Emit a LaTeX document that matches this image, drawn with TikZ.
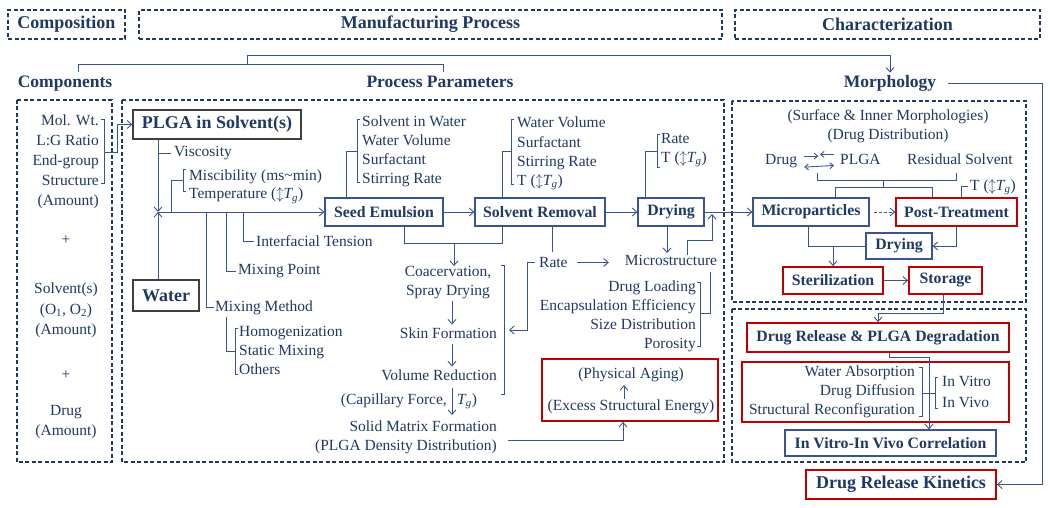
\documentclass[tikz,border=0pt]{standalone}
\usepackage{fontspec}
\setmainfont{Liberation Serif}
\usetikzlibrary{arrows.meta,positioning}
\definecolor{navy}{HTML}{1F3864}
\definecolor{lineblue}{HTML}{3A5490}
\definecolor{boxred}{HTML}{C00000}
\definecolor{boxgray}{HTML}{3F3F3F}
\newcommand{\Tg}{\textit{T}\textsubscript{\kern-0.08em\textit{g}}}
\newcommand{\TgShift}{($\updownarrow$\Tg)}

\begin{document}
\begin{tikzpicture}[x=1pt,y=-1pt,
      every node/.style={
         text=navy,
         inner sep=0pt,
         font=\fontsize{15.5}{19.3}\selectfont
      },
      frame/.style={
         draw=navy,
         line width=1.7pt,
         dash pattern=on 4pt off 2.5pt
      },
      section/.style={
         frame,
         minimum height=29pt,
         font=\fontsize{18}{20}\selectfont\bfseries
      },
      heading/.style={
         anchor=base,
         font=\fontsize{17.5}{20}\selectfont\bfseries
      },
      ingredient/.style={
         rectangle,
         draw=boxgray,
         line width=1.4pt,
         font=\fontsize{18}{20}\selectfont\bfseries
      },
      stage/.style={
         rectangle,
         draw=lineblue,
         line width=1.2pt,
         minimum height=28pt,
         font=\fontsize{15.8}{18}\selectfont\bfseries
      },
      critical/.style={
         stage,
         draw=boxred,
         line width=1.8pt
      },
      param/.style={anchor=base west},
      link/.style={draw=lineblue,line width=0.9pt},
      tip/.style={link,->},
      small tip/.style={link,>={Straight Barb[length=3.5pt,width=6pt]}},
      >={Straight Barb[length=4.5pt,width=8pt]},
    ]
  \useasboundingbox (0,0) rectangle (1050,508);

  % section titles and frames
  \node (compo) [section, minimum width=117pt] at (66.5,24.5) {Composition};
  \node (manuf) [section, minimum width=583pt] at (430.5,24.5) {Manufacturing Process};
  \node (charac) [section, minimum width=305pt] at (887.5,24.5) {Characterization};
  \node (comphd) [heading] at (65,88) {Components};
  \node (prochd) [heading] at (440,88) {Process Parameters};
  \node (morphhd) [heading] at (890,88) {Morphology};
  \draw[frame] (17,100) rectangle (112,462);
  \draw[frame] (122,100) rectangle (724,462);
  \draw[frame] (732,101) rectangle (1026,302);
  \draw[frame] (732,309) rectangle (1026,462);

  % components
  \node (props) [anchor=north east, align=right, font=\fontsize{15.5}{20}\selectfont] at (99,115)
     {Mol. Wt.\\L:G Ratio\\End-group\\Structure\\(Amount)};
  \node (plus1) [anchor=base] at (66,244) {+};
  \node (solv) [anchor=north, align=center, font=\fontsize{15.5}{20.5}\selectfont] at (66,283)
     {Solvent(s)\\(O\textsubscript{1}, O\textsubscript{2})\\(Amount)};
  \node (plus2) [anchor=base] at (66,379) {+};
  \node (drug) [anchor=north, align=center, font=\fontsize{15.5}{20}\selectfont] at (66,405)
     {Drug\\(Amount)};

  % process parameters
  \node (plga) [ingredient, minimum width=168pt, minimum height=29pt] at (217,124.5) {PLGA in Solvent(s)};
  \node (water) [ingredient, minimum width=66pt, minimum height=31pt] at (166,295.5) {Water};
  \node (seed) [stage, minimum width=118pt] at (384,212) {Seed Emulsion};
  \node (remov) [stage, minimum width=130pt] at (540,212) {Solvent Removal};
  \node (dry) [stage, minimum width=66pt] at (671,212) {Drying};
  \coordinate (mix) at (158,212);
  \coordinate (solidout) at (508,440);

  \node (visc) [param] at (174,156.5) {Viscosity};
  \node (misc) [anchor=north west, align=left, font=\fontsize{15.5}{18}\selectfont] at (189,170)
     {Miscibility (ms\textasciitilde min)\\Temperature \TgShift};
  \node (ift) [param] at (256,246.5) {Interfacial Tension};
  \node (mpt) [param] at (238,274.5) {Mixing Point};
  \node (mmeth) [param] at (215,311.5) {Mixing Method};
  \node (mixways) [anchor=north west, align=left, font=\fontsize{15.5}{19}\selectfont] at (239,326)
     {Homogenization\\Static Mixing\\Others};
  \node (seedpar) [anchor=north west, align=left, font=\fontsize{15.5}{18.8}\selectfont] at (362,116)
     {Solvent in Water\\Water Volume\\Surfactant\\Stirring Rate};
  \node (rempar) [anchor=north west, align=left, font=\fontsize{15.5}{19.2}\selectfont] at (517,117)
     {Water Volume\\Surfactant\\Stirring Rate\\T \TgShift};
  \node (drypar) [anchor=north west, align=left, font=\fontsize{15.5}{19}\selectfont] at (661,133)
     {Rate\\T \TgShift};

  \node (coac) [anchor=north, align=center, font=\fontsize{15.5}{19}\selectfont] at (448,266)
     {Coacervation,\\Spray Drying};
  \node (skin) [anchor=base east] at (497,338.5) {Skin Formation};
  \node (volred) [anchor=base east] at (497,380.5) {Volume Reduction};
  \node (capil) [anchor=base east] at (447,404.5) {(Capillary Force,};
  \node (capilTg) [anchor=base west] at (457,404.5) {\Tg)};
  \node (solid) [anchor=north east, align=right, font=\fontsize{15.5}{18.5}\selectfont] at (497,421)
     {Solid Matrix Formation\\(PLGA Density Distribution)};
  \node (rate) [param] at (539,267.5) {Rate};
  \node (mstruct) [anchor=base] at (671,265.5) {Microstructure};
  \node (mslist) [anchor=north east, align=right, font=\fontsize{15.5}{18.8}\selectfont] at (696,281)
     {Drug Loading\\Encapsulation Efficiency\\Size Distribution\\Porosity};
  \node (aging) [critical, minimum width=176pt, minimum height=62pt] at (630,390) {};
  \node (phys) [anchor=base] at (631,378.5) {(Physical Aging)};
  \node (excess) [anchor=base] at (631,410.5) {(Excess Structural Energy)};

  % morphology
  \node (micro) [stage, minimum width=116pt] at (811,212) {Microparticles};
  \node (post) [critical, minimum width=121pt] at (956.5,212) {Post-Treatment};
  \node (dry2) [stage, minimum width=66pt, minimum height=26pt] at (899,246) {Drying};
  \node (steril) [critical, minimum width=100pt, minimum height=27pt] at (833,280.5) {Sterilization};
  \node (storage) [critical, minimum width=73pt, minimum height=27pt] at (945.5,280.5) {Storage};
  \node (surf) [anchor=north, align=center, font=\fontsize{15.5}{19}\selectfont] at (888,109)
     {(Surface \& Inner Morphologies)\\(Drug Distribution)};
  \node (drugm) [param] at (765,164.5) {Drug};
  \node (plgam) [param] at (840,164.5) {PLGA};
  \node (resid) [param] at (907,164.5) {Residual Solvent};
  \node (postT) [param] at (970,190) {T \TgShift};

  % drug release
  \node (release) [critical, minimum width=262pt, minimum height=29pt] at (878,337.5)
     {Drug Release \& PLGA Degradation};
  \node (mech) [critical, minimum width=267pt, minimum height=60pt] at (875.5,392) {};
  \node (mechlist) [anchor=north east, align=right, font=\fontsize{15.5}{19}\selectfont] at (915,366)
     {Water Absorption\\Drug Diffusion\\Structural Reconfiguration};
  \node (vitro) [anchor=north west, align=left, font=\fontsize{15.5}{21}\selectfont] at (942,376)
     {In Vitro\\In Vivo};
  \node (ivivc) [stage, minimum width=211pt, minimum height=26pt] at (890.5,443)
     {In Vitro-In Vivo Correlation};
  \node (kinetics) [critical, minimum width=190pt, minimum height=29pt,
     font=\fontsize{18}{20}\selectfont\bfseries] at (901,484.5) {Drug Release Kinetics};

  % top connectors
  \draw[link] (78,72) |- (443,64) -- (443,72);
  \draw[tip] (247,64) -- (247,55) -| ([yshift=3pt]morphhd.north);
  \draw[tip] ([xshift=12pt]morphhd.east) -| (1042,470) |- (kinetics.east);

  % components to PLGA
  \draw[link] (101,119) -- (104,119) -- (104,183) -- (101,183);
  \draw[tip] (104,152) -- (117,152) |- (plga.west);

  % mixing
  \draw[tip] (plga.south -| mix) -- (mix);
  \draw[tip] (water.north -| mix) -- (mix);
  \draw[tip] (mix) -- (seed);
  \draw[link] (visc.west -| mix) -- ([xshift=-3pt]visc.west);
  \draw[link] (171,212) |- (183,180);
  \draw[link] (186,169) -- (183,169) -- (183,191) -- (186,191);
  \draw[link] (243,212) |- ([xshift=-2pt]ift.west);
  \draw[link] (226,212) |- ([xshift=-2pt]mpt.west);
  \draw[link] (206,212) |- ([xshift=-1pt]mmeth.west);
  \draw[link] (226,317) |- (235,351);
  \draw[link] (238,328) -- (235,328) -- (235,374) -- (238,374);

  % stage parameters
  \draw[link] ([xshift=-38pt]seed.north) |- (357,151);
  \draw[link] (360,119) -- (357,119) -- (357,182) -- (360,182);
  \draw[link] ([xshift=-38pt]remov.north) |- (511,151);
  \draw[link] (514,119) -- (511,119) -- (511,184) -- (514,184);
  \draw[link] ([xshift=-26pt]dry.north) |- (657,151);
  \draw[link] (660,134) -- (657,134) -- (657,167) -- (660,167);

  % main flow
  \draw[tip] (seed) -- (remov);
  \draw[tip] (remov) -- (dry);
  \draw[tip] (dry) -- (micro);
  \draw[link] ([xshift=20pt]seed.south) -- ++(0,17) -| ([xshift=-38pt]remov.south);
  \draw[tip] (454,243) -- (coac.north -| 454,0);
  \draw[tip,shorten <=2pt,shorten >=3pt] (coac.south -| 452,0) -- (skin.north -| 452,0);
  \draw[tip,shorten <=5pt,shorten >=3pt] (skin.south -| 452,0) -- (volred.north -| 452,0);
  \draw[tip,shorten <=7pt,shorten >=6pt] (volred.south -| 452,0) -- (solid.north -| 452,0);
  \draw[link] (501,265) -- (504,265) -- (504,394) -- (501,394);
  \draw[tip] ([xshift=-4pt]rate.west) -- ++(-8,0) |- (509,330);
  \draw[link,shorten >=5pt] ([xshift=12pt]remov.south) -- (rate.north -| 552,0);
  \draw[tip] ([xshift=9pt]rate.east) -- ++(32,0);
  \draw[tip,shorten >=2pt] ([xshift=-4pt]dry.south) -- (mstruct.north -| 667,0);
  \draw[tip] ([xshift=16pt]mstruct.north) |- (712,240) -- (712,214);
  \draw[link] (697,282) -- (700,282) -- (700,346) -- (697,346);
  \draw[link,shorten >=6pt] (700,313) -| ([xshift=39pt]mstruct.south);
  \draw[tip] (solidout) -| ([xshift=-7pt]aging.south);
  \draw[tip,shorten <=1pt,shorten >=3pt] ([xshift=-7pt]excess.north) -- ([xshift=-7pt]phys.south);

  % morphology connectors
  \draw[small tip,->] ([shift={(7pt,5pt)}]drugm.east) -- ++(14,0);
  \draw[small tip,->] ([shift={(-6pt,5pt)}]plgam.west) -- ++(-14,0);
  \draw[small tip,<->] ([shift={(7pt,-6pt)}]drugm.east) -- ([shift={(-6pt,-6pt)}]plgam.west);
  \draw[link] (817,173) |- (956,180) -- (956,173);
  \draw[link] (883,180) -- (883,188);
  \draw[link] ([xshift=24pt]micro.north) -- ++(0,-10) -| ([xshift=-24.5pt]post.north);
  \draw[link] ([xshift=4.5pt]post.north) |- ([xshift=-2pt]postT.west);
  \draw[tip,dash pattern=on 3pt off 2pt] ([xshift=4pt]micro.east) -- (post.west);
  \draw[tip] (post.south) |- (dry2.east);
  \draw[link] ([xshift=-3pt]micro.south) |- (dry2.west);
  \draw[tip] (steril.north |- dry2.west) -- (steril.north);
  \draw[tip] (steril) -- (storage);

  % release connectors
  \draw[tip] ([xshift=-2pt]storage.south) -- ++(0,19) -| (release.north);
  \draw[tip] ([xshift=11pt]release.south) -- ++(0,5) -| ([xshift=38.5pt]ivivc.north);
  \draw[link] (919,367) -- (922,367) -- (922,416) -- (919,416);
  \draw[link] (922,393) -- (935,393);
  \draw[link] (938,377) -- (935,377) -- (935,408) -- (938,408);
\end{tikzpicture}
\end{document}
